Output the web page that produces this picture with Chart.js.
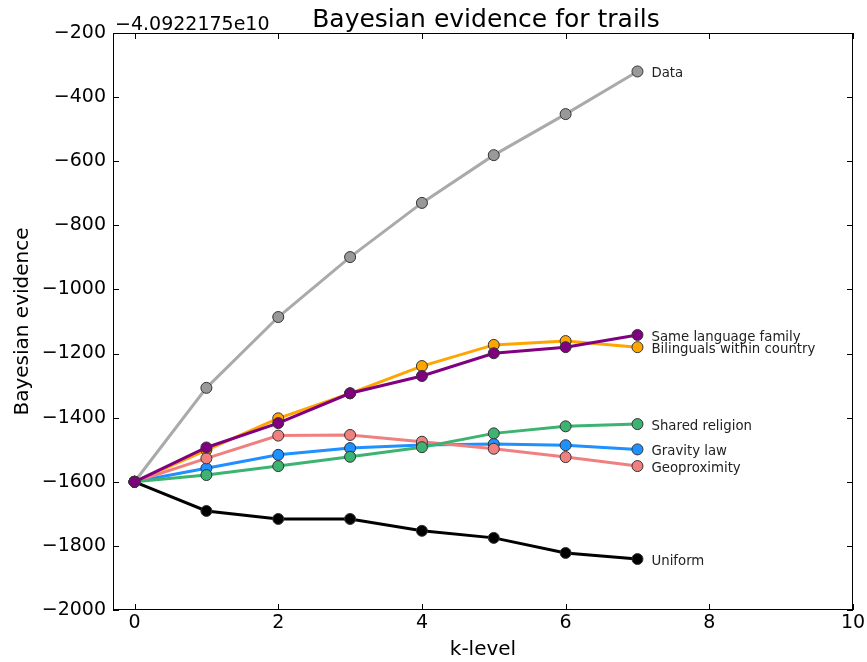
<!DOCTYPE html>
<html>
<head>
<meta charset="utf-8">
<script src="https://cdn.jsdelivr.net/npm/chart.js@4"></script>
<style>
  body { margin: 0; background: #fff; }
  #wrap { width: 867px; height: 662px; }
</style>
</head>
<body>
<div id="wrap"><canvas id="myChart" width="867" height="662"></canvas></div>
<script>
// k-level on x, evidence (minus offset -4.0922175e10) on y
const kLevels = [0, 1, 2, 3, 4, 5, 6, 7];
const xTicks = [0, 2, 4, 6, 8, 10];
const yTicks = [-2000, -1800, -1600, -1400, -1200, -1000, -800, -600, -400, -200];
const offsetText = '\u22124.0922175e10';

const dataVals      = [-1600, -1307, -1086, -899, -730, -581, -453, -320];
const sameLanguage  = [-1600, -1493, -1417, -1324, -1270, -1199, -1180, -1142];
const bilinguals    = [-1600, -1501, -1402, -1324, -1239, -1173, -1161, -1180];
const sharedRel     = [-1600, -1579, -1551, -1522, -1492, -1449, -1427, -1420];
const gravityLaw    = [-1600, -1558, -1516, -1495, -1485, -1482, -1486, -1499];
const geoproximity  = [-1600, -1527, -1456, -1454, -1475, -1497, -1523, -1551];
const uniformVals   = [-1600, -1691, -1716, -1716, -1753, -1775, -1822, -1841];

const series = [
  { name: 'Same language family', vals: sameLanguage, line: '#800080', fill: '#800080', order: 0 },
  { name: 'Shared religion', vals: sharedRel, line: '#3cb371', fill: '#3cb371', order: 1 },
  { name: 'Geoproximity', vals: geoproximity, line: '#f08080', fill: '#f08080', order: 2 },
  { name: 'Gravity law', vals: gravityLaw, line: '#1e90ff', fill: '#1e90ff', order: 3 },
  { name: 'Bilinguals within country', vals: bilinguals, line: '#ffa500', fill: '#ffa500', order: 4 },
  { name: 'Data', vals: dataVals, line: '#aaaaaa', fill: '#999999', order: 5 },
  { name: 'Uniform', vals: uniformVals, line: '#000000', fill: '#000000', order: 6 }
];

const minus = v => String(v).replace('-', '\u2212');

const frameTicks = {
  id: 'frameTicks',
  afterDraw(chart) {
    const c = chart.ctx, a = chart.chartArea;
    const xs = chart.scales.x, ys = chart.scales.y;
    c.save();
    c.strokeStyle = '#000';
    c.lineWidth = 1;
    c.strokeRect(a.left + 0.5, a.top + 0.5, a.right - a.left - 1, a.bottom - a.top - 1);
    c.beginPath();
    xTicks.forEach(v => {
      const px = Math.round(xs.getPixelForValue(v)) + 0.5;
      c.moveTo(px, a.bottom); c.lineTo(px, a.bottom - 6);
      c.moveTo(px, a.top); c.lineTo(px, a.top + 6);
    });
    yTicks.forEach(v => {
      const py = Math.round(ys.getPixelForValue(v)) + 0.5;
      c.moveTo(a.left, py); c.lineTo(a.left + 6, py);
      c.moveTo(a.right, py); c.lineTo(a.right - 6, py);
    });
    c.stroke();

    // end-of-line labels
    c.fillStyle = '#222';
    c.font = '13.3px "DejaVu Sans"';
    c.textBaseline = 'middle';
    c.textAlign = 'left';
    series.forEach(s => {
      const last = s.vals.length - 1;
      const px = xs.getPixelForValue(kLevels[last]) + 14;
      const py = ys.getPixelForValue(s.vals[last]) + 2.5;
      c.fillText(s.name, px, py);
    });

    // title and offset text
    c.fillStyle = '#000';
    c.font = '25px "DejaVu Sans"';
    c.textAlign = 'center';
    c.textBaseline = 'alphabetic';
    c.fillText('Bayesian evidence for trails', (a.left + a.right) / 2 + 3, a.top - 6);
    c.font = '19px "DejaVu Sans"';
    c.textAlign = 'left';
    c.fillText(offsetText, a.left + 2, a.top - 3);
    c.restore();
  }
};

const ctx = document.getElementById('myChart');
const myChart = new Chart(ctx, {
  type: 'line',
  data: {
    datasets: series.map(s => ({
      label: s.name,
      data: s.vals.map((v, i) => ({ x: kLevels[i], y: v })),
      borderColor: s.line,
      backgroundColor: s.fill,
      pointBackgroundColor: s.fill,
      pointBorderColor: '#333',
      pointBorderWidth: 1,
      pointRadius: 5.5,
      borderWidth: 3,
      tension: 0,
      fill: false,
      order: s.order
    }))
  },
  options: {
    responsive: false,
    animation: false,
    devicePixelRatio: 1,
    layout: { padding: { top: 33, right: 0, left: 0, bottom: 0 } },
    plugins: {
      legend: { display: false },
      tooltip: { enabled: false }
    },
    scales: {
      x: {
        type: 'linear',
        min: -0.3,
        max: 10,
        afterBuildTicks: s => { s.ticks = xTicks.map(v => ({ value: v })); },
        afterFit: s => { s.height = 52; s.paddingRight = 14; s.paddingLeft = 0; },
        grid: { display: false, drawTicks: false, tickLength: 0 },
        border: { display: false },
        ticks: { color: '#000', font: { family: 'DejaVu Sans', size: 19 }, padding: 2, maxRotation: 0 },
        title: { display: true, text: 'k-level', color: '#000', font: { family: 'DejaVu Sans', size: 20 }, padding: { top: 5, bottom: 0 } }
      },
      y: {
        type: 'linear',
        min: -2000,
        max: -200,
        afterBuildTicks: s => { s.ticks = yTicks.map(v => ({ value: v })); },
        afterFit: s => { s.width = 113; },
        grid: { display: false, drawTicks: false, tickLength: 0 },
        border: { display: false },
        ticks: { color: '#000', font: { family: 'DejaVu Sans', size: 19 }, padding: 7, callback: v => minus(v) },
        title: { display: true, text: 'Bayesian evidence', color: '#000', font: { family: 'DejaVu Sans', size: 20 }, padding: { top: 11, bottom: 0 } }
      }
    }
  },
  plugins: [frameTicks]
});
</script>
</body>
</html>
